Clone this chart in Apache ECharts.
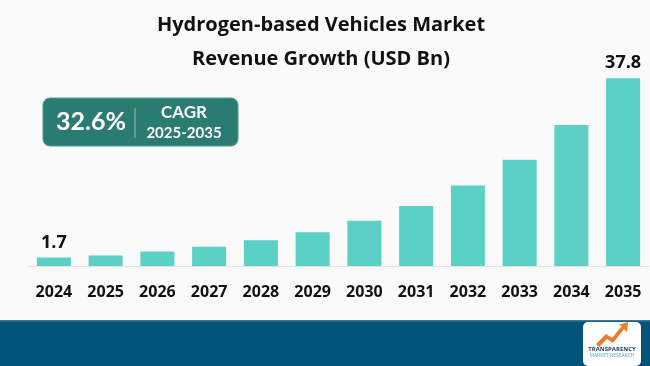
<!DOCTYPE html>
<html>
<head>
<meta charset="utf-8">
<script src="https://cdn.jsdelivr.net/npm/echarts@6/dist/echarts.min.js"></script>
<style>
html,body{margin:0;padding:0;background:#fafafa;}
#c{width:650px;height:366px;}
</style>
</head>
<body>
<div id="c"></div>
<script>
const categories = ['2024','2025','2026','2027','2028','2029','2030','2031','2032','2033','2034','2035'];
const revenue = [1.7, 2.1, 2.9, 3.9, 5.2, 6.8, 9.1, 12.1, 16.2, 21.4, 28.4, 37.8];
const labeledIdx = [0, 11];
const titleLines = ['Hydrogen-based Vehicles Market', 'Revenue Growth (USD Bn)'];
const cagrValue = '32.6%';
const cagrLabel = 'CAGR';
const cagrPeriod = '2025-2035';

const chart = echarts.init(document.getElementById('c'));
const font = '"Open Sans", "DejaVu Sans", sans-serif';
chart.setOption({
  backgroundColor: '#fafafa',
  animation: false,
  title: {
    text: titleLines.join('\n'),
    left: 316, top: 3, textAlign: 'center',
    textStyle: { fontFamily: font, fontWeight: 'bold', fontSize: 20, color: '#111', lineHeight: 34 }
  },
  grid: { left: 28, right: 1, top: 67.4, bottom: 100 },
  xAxis: {
    type: 'category', data: categories,
    axisLine: { show: true, lineStyle: { color: '#e2e2e2', width: 1 } },
    axisTick: { show: false },
    axisLabel: { fontFamily: font, fontWeight: 'bold', fontSize: 16, color: '#111', margin: 18 }
  },
  yAxis: { type: 'value', min: 0, max: 40, show: false, splitLine: { show: false } },
  series: [{
    type: 'bar', barWidth: 34,
    itemStyle: { color: '#5bd0c4' },
    data: revenue.map((v, i) => ({
      value: v,
      label: { show: labeledIdx.includes(i), position: 'top', distance: 6,
        fontFamily: font, fontWeight: 'bold', fontSize: 18, color: '#111' }
    }))
  }],
  graphic: [
    { type: 'rect', shape: { x: 0, y: 321, width: 650, height: 45 }, style: { fill: '#02557a' } },
    { type: 'rect', shape: { x: 0, y: 320, width: 650, height: 1.5 }, style: { fill: '#3a7a8e' } },
    { type: 'rect', shape: { x: 43, y: 98, width: 195, height: 48, r: 7 },
      style: { fill: '#2a7c72', stroke: '#4a9a90', lineWidth: 1 } },
    { type: 'rect', shape: { x: 134.5, y: 108, width: 1, height: 30 }, style: { fill: '#8fc3bc' } },
    { type: 'text', x: 91, y: 122, style: { text: cagrValue, fontFamily: 'Lato, "Open Sans", sans-serif', fontWeight: 'bold', fontSize: 25, fill: '#fff', align: 'center', verticalAlign: 'middle' } },
    { type: 'text', x: 184, y: 113, style: { text: cagrLabel, fontFamily: 'Lato, "Open Sans", sans-serif', fontWeight: 'bold', fontSize: 17, fill: '#fff', align: 'center', verticalAlign: 'middle' } },
    { type: 'text', x: 184, y: 133, style: { text: cagrPeriod, fontFamily: 'Lato, "Open Sans", sans-serif', fontWeight: 'bold', fontSize: 15, fill: '#fff', align: 'center', verticalAlign: 'middle' } },
    { type: 'rect', shape: { x: 583, y: 322, width: 58, height: 44, r: 5 }, style: { fill: '#ffffff' } },
    { type: 'polygon', shape: { points: [[596,344],[606,334],[612,338],[622,326],[618,325],[628,322],[627,332],[624,329],[613,343],[607,339],[599,347]] }, style: { fill: '#f07a2a' } },
    { type: 'text', x: 612, y: 349, style: { text: 'TRANSPARENCY', fontFamily: font, fontWeight: 'bold', fontSize: 6, fill: '#1a3a5a', align: 'center', verticalAlign: 'middle' } },
    { type: 'text', x: 612, y: 356, style: { text: 'MARKET RESEARCH', fontFamily: font, fontSize: 5, fill: '#5aa9b8', align: 'center', verticalAlign: 'middle' } }
  ]
});
</script>
</body>
</html>
